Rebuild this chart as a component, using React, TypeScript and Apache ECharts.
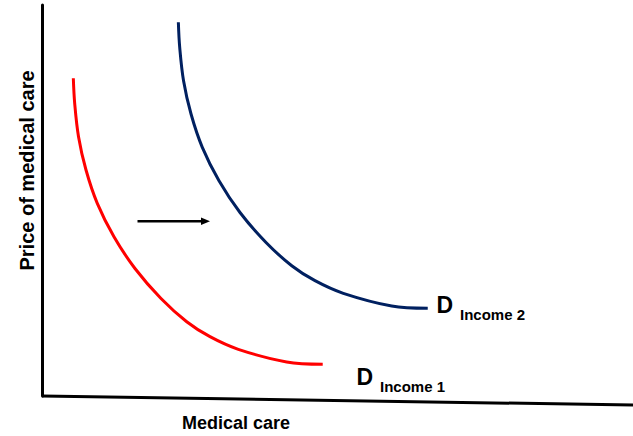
import React, { useEffect, useRef } from "react";
import * as echarts from "echarts";

// Demand curve at income level 1 (x = quantity of medical care, y = price), 0..100 scale
const income1X = [5.31, 5.54, 6.19, 7.46, 9.37, 12.2, 15.76, 20.17, 24.53, 28.47, 33.27, 41.47, 47.58];
const income1Y = [81.25, 74.86, 66.32, 57.8, 49.28, 40.74, 32.61, 24.94, 19.0, 15.17, 11.94, 8.7, 8.11];

// Demand curve at income level 2
const income2X = [23.11, 23.34, 23.99, 25.26, 27.17, 30.0, 33.56, 37.97, 42.33, 46.27, 51.07, 59.27, 65.38];
const income2Y = [95.6, 89.18, 80.64, 72.12, 63.6, 55.06, 46.93, 39.26, 33.32, 29.49, 26.26, 23.02, 22.43];

const xTitle = "Medical care";
const yTitle = "Price of medical care";
const labelD = "D";
const label1 = "Income 1";
const label2 = "Income 2";

const FONT = "'Liberation Sans', Arial, 'DejaVu Sans', sans-serif";

export default function App() {
  const ref = useRef<HTMLDivElement>(null);

  useEffect(() => {
    if (!ref.current) return;
    const chart = echarts.init(ref.current, undefined, { renderer: "svg" });
    const pair = (xs: number[], ys: number[]) => xs.map((x, i) => [x, ys[i]]);

    chart.setOption({
      animation: false,
      backgroundColor: "#ffffff",
      grid: { left: 42, right: 1, top: 5, bottom: 40, containLabel: false },
      xAxis: {
        type: "value",
        min: 0,
        max: 100,
        axisLine: { show: false },
        axisTick: { show: false },
        axisLabel: { show: false },
        splitLine: { show: false },
      },
      yAxis: {
        type: "value",
        min: 0,
        max: 100,
        axisLine: { show: true, lineStyle: { color: "#000", width: 3 } },
        axisTick: { show: false },
        axisLabel: { show: false },
        splitLine: { show: false },
      },
      series: [
        {
          type: "line",
          data: pair(income1X, income1Y),
          smooth: 0.35,
          showSymbol: false,
          lineStyle: { color: "#FF0000", width: 3 },
        },
        {
          type: "line",
          data: pair(income2X, income2Y),
          smooth: 0.35,
          showSymbol: false,
          lineStyle: { color: "#002060", width: 3 },
        },
      ],
      graphic: [
        {
          type: "line",
          shape: { x1: 42, y1: 396, x2: 633, y2: 405 },
          style: { stroke: "#000", lineWidth: 3 },
        },
        {
          type: "line",
          shape: { x1: 137.5, y1: 221.3, x2: 203, y2: 221.3 },
          style: { stroke: "#000", lineWidth: 2.5 },
        },
        {
          type: "polygon",
          shape: { points: [[201, 217.5], [210, 221.3], [201, 225.1]] },
          style: { fill: "#000" },
        },
        {
          type: "text",
          x: 26.5,
          y: 170.5,
          rotation: Math.PI / 2,
          style: { text: yTitle, font: `bold 20px ${FONT}`, fill: "#000", verticalAlign: "middle", align: "center" },
        },
        {
          type: "text",
          x: 236,
          y: 423,
          style: { text: xTitle, font: `bold 18px ${FONT}`, fill: "#000", verticalAlign: "middle", align: "center" },
        },
        {
          type: "text",
          x: 436.5,
          y: 305,
          style: { text: labelD, font: `bold 23px ${FONT}`, fill: "#000", verticalAlign: "middle", align: "left" },
        },
        {
          type: "text",
          x: 460,
          y: 314.5,
          style: { text: label2, font: `bold 15px ${FONT}`, fill: "#000", verticalAlign: "middle", align: "left" },
        },
        {
          type: "text",
          x: 356.5,
          y: 376.7,
          style: { text: labelD, font: `bold 23px ${FONT}`, fill: "#000", verticalAlign: "middle", align: "left" },
        },
        {
          type: "text",
          x: 380,
          y: 386.7,
          style: { text: label1, font: `bold 15px ${FONT}`, fill: "#000", verticalAlign: "middle", align: "left" },
        },
      ],
    });

    return () => chart.dispose();
  }, []);

  return <div ref={ref} style={{ width: 633, height: 436, position: "fixed", left: 0, top: 0 }} />;
}
